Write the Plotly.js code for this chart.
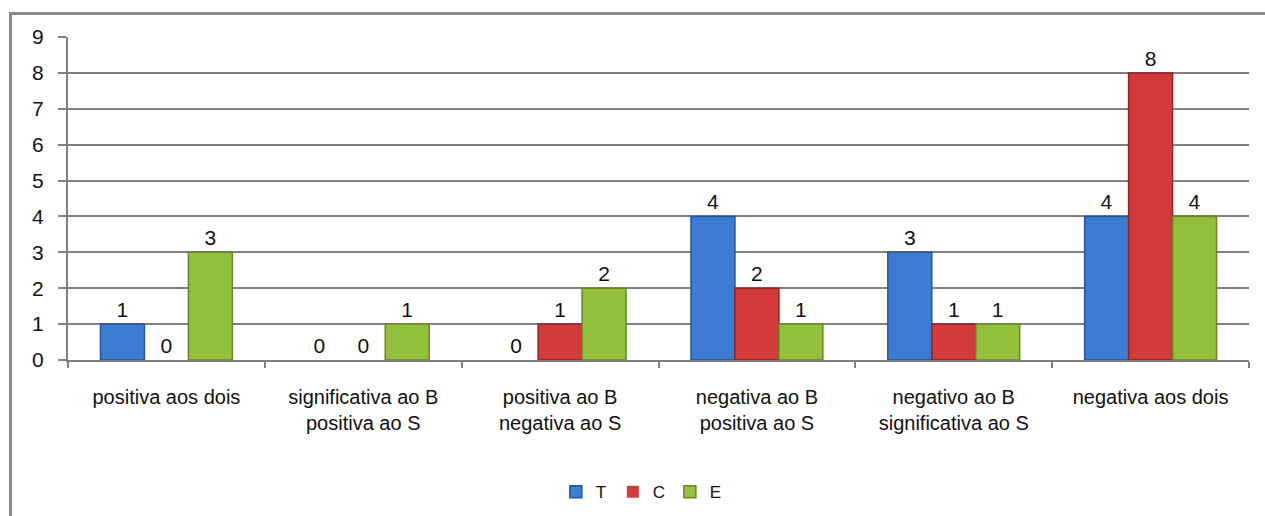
<!DOCTYPE html>
<html>
<head>
<meta charset="utf-8">
<script src="https://cdn.plot.ly/plotly-3.0.1.min.js"></script>
<style>
html,body{margin:0;padding:0;background:#fff;}
#chart{position:absolute;left:0;top:0;width:1265px;height:516px;}
#frame{position:absolute;left:9px;top:12px;width:1270px;height:520px;border-left:3px solid #8a8a8a;border-top:3px solid #8a8a8a;pointer-events:none;}
</style>
</head>
<body>
<div id="chart"></div>
<div id="frame"></div>
<script>
const categories = [
  "positiva aos dois",
  "significativa ao B<br>positiva ao S",
  "positiva ao B<br>negativa ao S",
  "negativa ao B<br>positiva ao S",
  "negativo ao B<br>significativa ao S",
  "negativa aos dois"
];
const seriesNames = ["T", "C", "E"];
const valuesT = [1, 0, 0, 4, 3, 4];
const valuesC = [0, 0, 1, 2, 1, 8];
const valuesE = [3, 1, 2, 1, 1, 4];
const yTicks = [0, 1, 2, 3, 4, 5, 6, 7, 8, 9];

const fills = ["#3d7cd3", "#d33b3b", "#93c03c"];
const edges = ["#24559b", "#962222", "#66891f"];
const allValues = [valuesT, valuesC, valuesE];
const FONT = "Liberation Sans, Arial, sans-serif";

const traces = allValues.map((vals, i) => ({
  type: "bar",
  name: seriesNames[i],
  x: categories,
  y: vals,
  text: vals.map(String),
  textposition: "outside",
  cliponaxis: false,
  textfont: {family: FONT, size: 21, color: "#111"},
  marker: {color: fills[i], line: {color: edges[i], width: vals.map(v => v === 0 ? 0 : 1.5)}},
  hoverinfo: "skip"
}));

const layout = {
  width: 1265,
  height: 516,
  margin: {l: 68, r: 16, t: 37, b: 156},
  paper_bgcolor: "#fff",
  plot_bgcolor: "#fff",
  barmode: "group",
  bargap: 0.33,
  bargroupgap: 0,
  showlegend: true,
  legend: {
    orientation: "h",
    xref: "container",
    yref: "container",
    x: 0.507, xanchor: "center",
    y: 0.046, yanchor: "middle",
    font: {family: FONT, size: 17, color: "#111"},
    itemwidth: 30,
    entrywidth: 12,
    entrywidthmode: "pixels",
    traceorder: "normal"
  },
  font: {family: FONT, size: 20, color: "#111"},
  xaxis: {
    type: "category",
    showgrid: false,
    showline: true,
    linecolor: "#808080",
    linewidth: 2,
    ticks: "outside",
    tickson: "boundaries",
    ticklen: 6,
    tickcolor: "#808080",
    tickwidth: 2,
    ticklabelstandoff: 18,
    tickfont: {family: FONT, size: 20, color: "#111"},
    fixedrange: true
  },
  yaxis: {
    range: [0, 9],
    tickvals: yTicks,
    ticktext: yTicks.map(String),
    showgrid: true,
    gridcolor: "#808080",
    gridwidth: 2,
    zeroline: false,
    showline: true,
    linecolor: "#808080",
    linewidth: 2,
    ticks: "outside",
    ticklen: 8,
    tickcolor: "#808080",
    tickwidth: 2,
    ticklabelstandoff: 10,
    tickfont: {family: FONT, size: 21, color: "#111"},
    fixedrange: true
  }
};

Plotly.newPlot("chart", traces, layout, {displayModeBar: false, staticPlot: true});
</script>
</body>
</html>
